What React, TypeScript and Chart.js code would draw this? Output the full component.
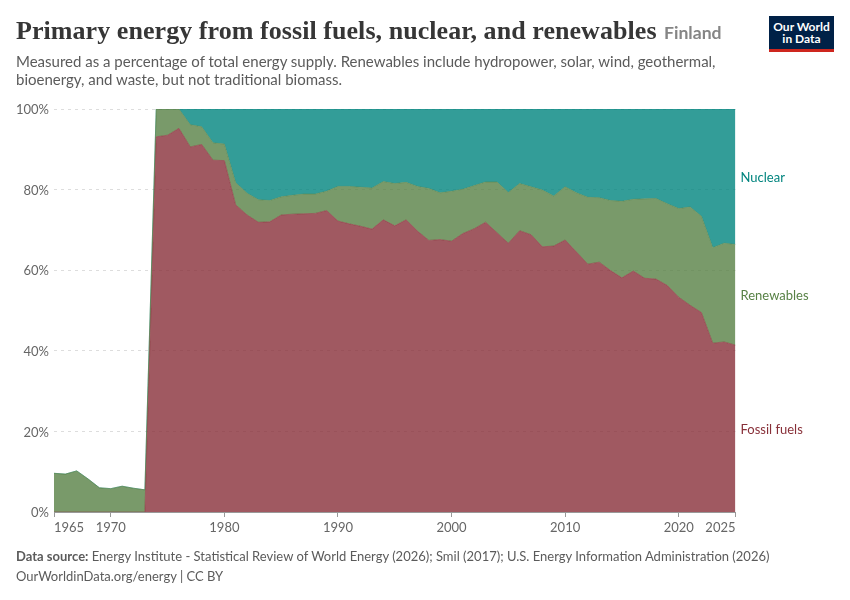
import { useEffect, useRef } from "react";
import { Chart, registerables } from "chart.js";

Chart.register(...registerables);
Chart.defaults.font.family = "Lato";

const firstYear = 1965;
const xTicks = [1965, 1970, 1980, 1990, 2000, 2010, 2020, 2025];
const yTicks = [0, 20, 40, 60, 80, 100];

const fossil = [
  0, 0, 0, 0, 0, 0, 0, 0, 0,
  93.1, 93.5, 95.2, 90.6, 91.2, 87.3, 87.2, 76.2, 73.7, 71.9, 72,
  73.7, 73.9, 74, 74.1, 74.8, 72.2, 71.5, 70.9, 70.2, 72.5,
  71, 72.5, 69.7, 67.4, 67.6, 67.2, 69.1, 70.3, 71.9, 69.3,
  66.7, 69.8, 68.8, 65.8, 66, 67.5, 64.5, 61.5, 62, 59.9,
  58.1, 59.8, 58, 57.8, 56.2, 53.3, 51.3, 49.5, 41.9, 42.2, 41.4,
];
const renewables = [
  9.6, 9.4, 10.2, 8.2, 6, 5.8, 6.4, 5.9, 5.5,
  6.9, 6.5, 4.8, 5.5, 4.4, 4.3, 4.1, 5.5, 5.4, 5.6, 5.3,
  4.5, 4.7, 4.9, 4.8, 4.8, 8.6, 9.3, 9.7, 10.2, 9.5,
  10.5, 9.3, 11.1, 12.9, 11.6, 12.4, 11, 10.7, 10, 12.6,
  12.6, 11.7, 11.9, 14.1, 12.4, 13.2, 14.7, 16.6, 16, 17.4,
  19, 17.8, 19.7, 20, 20.3, 22, 24.4, 23.9, 23.7, 24.5, 25,
];
const nuclear = [
  0, 0, 0, 0, 0, 0, 0, 0, 0,
  0, 0, 0, 3.9, 4.4, 8.4, 8.7, 18.3, 20.9, 22.5, 22.7,
  21.8, 21.4, 21.1, 21.1, 20.4, 19.2, 19.2, 19.4, 19.6, 18,
  18.5, 18.2, 19.2, 19.7, 20.8, 20.4, 19.9, 19, 18.1, 18.1,
  20.7, 18.5, 19.3, 20.1, 21.6, 19.3, 20.8, 21.9, 22, 22.7,
  22.9, 22.4, 22.3, 22.2, 23.5, 24.7, 24.3, 26.6, 34.4, 33.3, 33.6,
];

const seriesNames = ["Fossil fuels", "Renewables", "Nuclear"];
const seriesColors = ["#883039", "#578145", "#00847E"];
const seriesFills = ["rgba(136,48,57,0.8)", "rgba(87,129,69,0.8)", "rgba(0,132,126,0.8)"];
const seriesValues = [fossil, renewables, nuclear];

const toPoints = (values: number[]) => values.map((y, i) => ({ x: firstYear + i, y }));

// series names at the right edge, centred on each band's last value
const endLabels = {
  id: "endLabels",
  afterDraw(chart: Chart) {
    const { ctx, scales } = chart;
    let base = 0;
    ctx.save();
    ctx.font = "13px Lato";
    ctx.textBaseline = "middle";
    seriesValues.forEach((values, i) => {
      const last = values[values.length - 1];
      ctx.fillStyle = seriesColors[i];
      ctx.fillText(seriesNames[i], scales.x.right + 5, scales.y.getPixelForValue(base + last / 2) + 1);
      base += last;
    });
    ctx.restore();
  },
};

function EnergyChart() {
  const ref = useRef<HTMLCanvasElement>(null);

  useEffect(() => {
    if (!ref.current) return;
    const chart = new Chart(ref.current, {
      type: "line",
      data: {
        datasets: seriesValues.map((values, i) => ({
          label: seriesNames[i],
          data: toPoints(values),
          borderColor: seriesColors[i],
          backgroundColor: seriesFills[i],
          borderWidth: 0.5,
          pointRadius: 0,
          tension: 0,
          fill: i === 0 ? "origin" : "-1",
        })),
      },
      options: {
        responsive: false,
        animation: false,
        layout: { padding: { top: 109, right: 114.5 } },
        plugins: { legend: { display: false }, tooltip: { enabled: false } },
        scales: {
          x: {
            type: "linear",
            z: 1,
            min: 1965,
            max: 2025,
            afterFit: (s: any) => { s.height = 88; },
            afterBuildTicks: (s: any) => { s.ticks = xTicks.map((value) => ({ value })); },
            border: { color: "#999" },
            grid: { drawOnChartArea: false, color: "#999", tickLength: 5 },
            ticks: {
              align: "inner",
              maxRotation: 0,
              autoSkip: false,
              padding: 3,
              color: "#666",
              font: { size: 13 },
              callback: (v: any) => String(v),
            },
          },
          y: {
            stacked: true,
            min: 0,
            max: 100,
            afterFit: (s: any) => { s.width = 54; },
            afterBuildTicks: (s: any) => { s.ticks = yTicks.map((value) => ({ value })); },
            border: { display: false, dash: [3, 4] },
            grid: { color: "#ddd", drawTicks: false },
            ticks: { padding: 5, labelOffset: 1, color: "#666", font: { size: 13 }, callback: (v: any) => v + "%" },
          },
        },
      },
      plugins: [endLabels],
    });
    return () => chart.destroy();
  }, []);

  return <canvas ref={ref} width={850} height={600} style={{ position: "absolute", left: 0, top: 0 }} />;
}

const text = (left: number, top: number, extra: any) => ({
  position: "absolute" as const,
  left,
  top,
  whiteSpace: "nowrap" as const,
  fontFamily: "Lato",
  ...extra,
});

export default function App() {
  return (
    <div style={{ position: "absolute", left: 0, top: 0, width: 850, height: 600, background: "#fff", overflow: "hidden" }}>
      <EnergyChart />
      <div style={text(16, 14, { fontFamily: "Liberation Serif", fontWeight: 700, fontSize: 26, letterSpacing: 0.06, lineHeight: "34px", color: "#363636" })}>
        Primary energy from fossil fuels, nuclear, and renewables
      </div>
      <div style={text(664, 22, { fontWeight: 700, fontSize: 17.6, lineHeight: "22px", color: "#858585" })}>Finland</div>
      <div style={text(16, 52, { fontSize: 15, lineHeight: "18px", color: "#5b5b5b" })}>
        Measured as a percentage of total energy supply. Renewables include hydropower, solar, wind, geothermal,
        <br />
        bioenergy, and waste, but not traditional biomass.
      </div>
      <div style={text(16, 547, { fontSize: 13, lineHeight: "18px", color: "#5b5b5b" })}>
        <b>Data source:</b> Energy Institute - Statistical Review of World Energy (2026); Smil (2017); U.S. Energy Information Administration (2026)
      </div>
      <div style={text(16, 567, { fontSize: 13, lineHeight: "18px", color: "#5b5b5b" })}>OurWorldinData.org/energy | CC BY</div>
      <div style={{ position: "absolute", left: 769, top: 16, width: 65, height: 36, background: "#002147", borderBottom: "3px solid #ce261e", boxSizing: "border-box", color: "#fff", fontFamily: "Lato", fontWeight: 700, fontSize: 12, lineHeight: "12px", textAlign: "center", paddingTop: 5 }}>
        Our World
        <br />
        in Data
      </div>
    </div>
  );
}
